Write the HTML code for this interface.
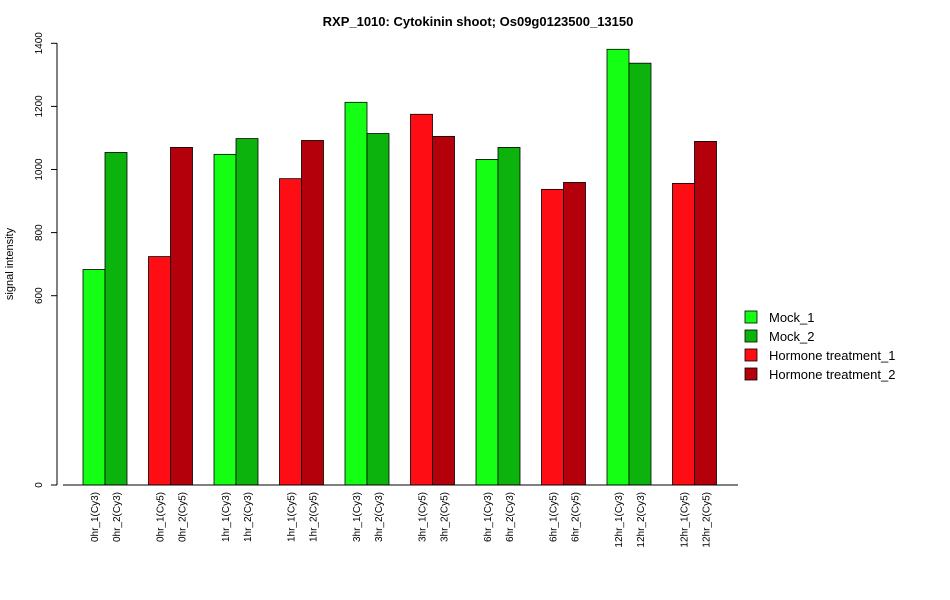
<!DOCTYPE html>
<html><head><meta charset="utf-8"><style>body{margin:0;background:#fff}svg{display:block;font-family:"Liberation Sans",Arial,sans-serif}</style></head>
<body>
<svg id="chart" width="950" height="600">
<text x="478" y="26" text-anchor="middle" font-size="13" font-weight="bold">RXP_1010: Cytokinin shoot; Os09g0123500_13150</text>
<text transform="translate(13,264) rotate(-90)" text-anchor="middle" font-size="11">signal intensity</text>
<g id="bars"></g><g id="yaxis"></g><g id="xlabels"></g><g id="legend"></g>
</svg>
<script>
const categories=["0hr_1(Cy3)","0hr_2(Cy3)","0hr_1(Cy5)","0hr_2(Cy5)","1hr_1(Cy3)","1hr_2(Cy3)","1hr_1(Cy5)","1hr_2(Cy5)","3hr_1(Cy3)","3hr_2(Cy3)","3hr_1(Cy5)","3hr_2(Cy5)","6hr_1(Cy3)","6hr_2(Cy3)","6hr_1(Cy5)","6hr_2(Cy5)","12hr_1(Cy3)","12hr_2(Cy3)","12hr_1(Cy5)","12hr_2(Cy5)"];
const values=[683,1054,724,1070,1048,1098,971,1092,1213,1114,1175,1105,1032,1070,937,959,1381,1337,956,1089];
const seriesIdx=[0,1,2,3,0,1,2,3,0,1,2,3,0,1,2,3,0,1,2,3];
const seriesNames=["Mock_1","Mock_2","Hormone treatment_1","Hormone treatment_2"];
const colors=["#14ff14","#0db30d","#ff0d14","#b3000a"];
const yTicks=[0,600,800,1000,1200,1400];
const NS="http://www.w3.org/2000/svg";
function y(v){return 485-v*0.3155;}
function x(i){return 83+Math.floor(i/2)*65.5+(i%2)*22;}
function mk(t,a,p){const e=document.createElementNS(NS,t);for(const k in a)e.setAttribute(k,a[k]);p.appendChild(e);return e;}
const bars=document.getElementById('bars');
values.forEach((v,i)=>{const r=mk('rect',{x:x(i),y:y(v),width:22,height:485-y(v),fill:colors[seriesIdx[i]],stroke:'#000','stroke-width':0.8},bars);

});
const ya=document.getElementById('yaxis');
mk('line',{x1:57,y1:y(0),x2:57,y2:y(1400),stroke:'#000'},ya);
mk('line',{x1:63,y1:485,x2:738,y2:485,stroke:'#000'},ya);
yTicks.forEach(t=>{mk('line',{x1:51,y1:y(t),x2:57,y2:y(t),stroke:'#000'},ya);
const tx=mk('text',{transform:`translate(42,${y(t)}) rotate(-90)`,'text-anchor':'middle','font-size':10},ya);tx.textContent=t;

});
const xl=document.getElementById('xlabels');
categories.forEach((c,i)=>{const tx=mk('text',{transform:`translate(${x(i)+15},492) rotate(-90)`,'text-anchor':'end','font-size':10},xl);tx.textContent=c;

});
const lg=document.getElementById('legend');
seriesNames.forEach((n,i)=>{const g=mk('g',{},lg);


mk('rect',{x:745,y:311+i*19,width:12,height:12,fill:colors[i],stroke:'#000','stroke-width':0.8},g);
const t=mk('text',{x:769,y:322+i*19,'font-size':13},g);t.textContent=n;});
</script>
</body></html>
